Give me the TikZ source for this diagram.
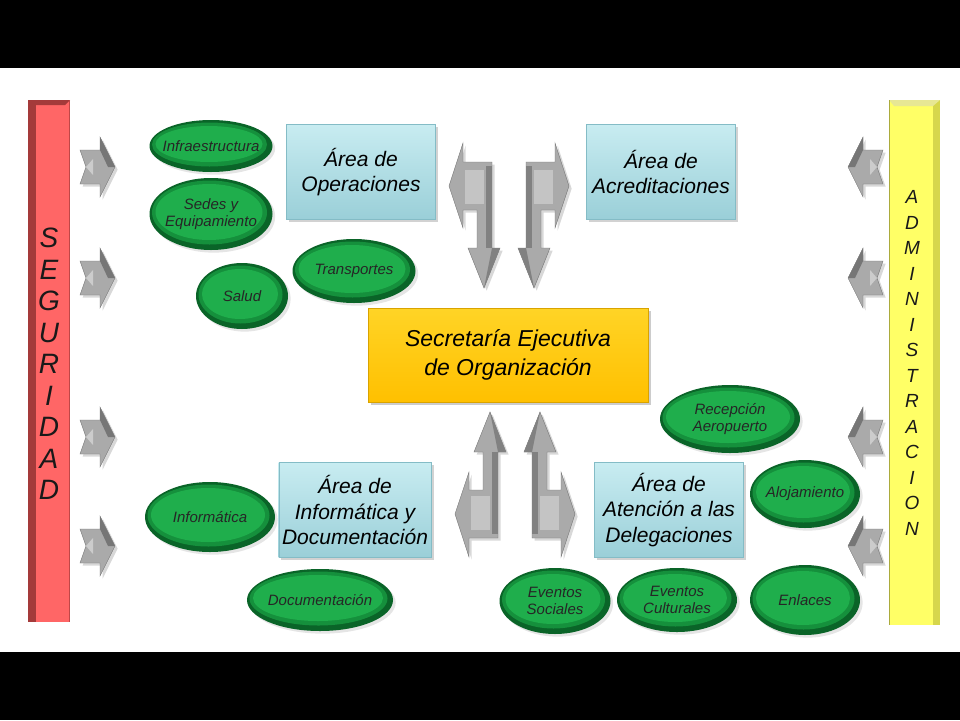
\documentclass[tikz,border=0pt]{standalone}
\usepackage{fontspec}
\setmainfont{Liberation Sans}
\usepackage{xcolor}
\usetikzlibrary{shadows,shapes.geometric}

\definecolor{boxtop}{HTML}{C8ECF1}
\definecolor{boxbot}{HTML}{9ACFD8}
\definecolor{boxline}{HTML}{84BCC6}
\definecolor{goldtop}{HTML}{FFD426}
\definecolor{goldbot}{HTML}{FFC000}
\definecolor{elgreen}{HTML}{1FAE4C}
\definecolor{elmid}{HTML}{15903C}
\definecolor{eldark}{HTML}{0A6428}
\definecolor{segred}{HTML}{FF6666}
\definecolor{segdark}{HTML}{A43A3A}
\definecolor{admyel}{HTML}{FFFF66}
\definecolor{admedge}{HTML}{D6D64C}
\definecolor{arrgray}{HTML}{AAAAAA}
\definecolor{arrdark}{HTML}{767676}

\begin{document}
\begin{tikzpicture}[x=1pt, y=-1pt,
  area/.style={rectangle, minimum width=149pt, minimum height=95pt,
    top color=boxtop, bottom color=boxbot, draw=boxline,
    drop shadow={opacity=0.35}, align=center,
    font=\fontsize{21}{25.5}\selectfont\itshape},
  secre/.style={rectangle, minimum width=280pt, minimum height=94pt,
    top color=goldtop, bottom color=goldbot, draw=goldbot!85!black,
    drop shadow={opacity=0.4}, align=center,
    font=\fontsize{23}{29}\selectfont\itshape},
  el/.style 2 args={ellipse, fill=eldark, draw=none, inner sep=0pt,
    minimum width=#1, minimum height=#2, drop shadow={opacity=0.2},
    path picture={
      \fill[elmid] ([xshift=-1.5pt, yshift=1.5pt]path picture bounding box.center)
        ellipse [x radius=#1/2-4pt, y radius=#2/2-4pt];
      \fill[elgreen] ([xshift=-2pt, yshift=2pt]path picture bounding box.center)
        ellipse [x radius=#1/2-8pt, y radius=#2/2-8pt];
    }},
  eltext/.style={inner sep=0pt, align=center, text=black!85,
    font=\fontsize{15}{17}\selectfont\itshape},
  barletters/.style={align=center, inner sep=0pt, text=black!90},
  sidearrow/.pic={
    \path[fill=arrgray, draw=arrdark, drop shadow={opacity=0.3}]
      (-17,-17) -- (3,-17) -- (3,-30) -- (18,0) -- (3,30) -- (3,17)
      -- (-17,17) -- (-11,0) -- cycle;
    \fill[arrdark] (3,-30) -- (18,0) -- (11,0) -- (3,-17) -- cycle;
    \fill[arrgray!60!white] (-11,0) -- (-4,-8) -- (-4,8) -- cycle;
  },
  bentarrow/.pic={
    \path[fill=arrgray, draw=arrdark, drop shadow={opacity=0.3}]
      (-8,126) -- (8,86) -- (0,86) -- (0,0) -- (-29,0) -- (-29,-19)
      -- (-43,24) -- (-29,66) -- (-29,48) -- (-15,48) -- (-15,86)
      -- (-24,86) -- cycle;
    \fill[arrdark!80!arrgray] (-6,4) rectangle (0,86);
    \fill[arrdark!80!arrgray] (-8,126) -- (8,86) -- (0,86) -- cycle;
    \fill[arrgray!70!white] (-27,8) rectangle (-8,42);
  }]

  \useasboundingbox (0,0) rectangle (960,720);
  \fill[white] (0,0) rectangle (960,720);

  % Black bands
  \fill[black] (0,0) rectangle (960,68);
  \fill[black] (0,652) rectangle (960,720);

  % Seguridad bar
  \fill[segred] (28,100) rectangle (70,622);
  \fill[segdark] (28,100) rectangle (36,622);
  \fill[segdark] (28,100) -- (70,100) -- (65,105) -- (36,105) -- cycle;
  \draw[segdark!70!segred] (69.5,100) -- (69.5,622);
  \node[barletters, font=\fontsize{28}{31.5}\selectfont\itshape] (segu)
    at (49,364) {S\\E\\G\\U\\R\\I\\D\\A\\D};

  % Administracion bar
  \fill[admyel] (889,100) rectangle (940,625);
  \fill[admedge] (933,100) rectangle (940,625);
  \fill[admedge!60!white] (889,100) -- (940,100) -- (933,106) -- (894,106) -- cycle;
  \draw[admedge!80!black] (889.5,100) -- (889.5,625);
  \node[barletters, font=\fontsize{19}{25.5}\selectfont\itshape] (admi)
    at (912,363) {A\\D\\M\\I\\N\\I\\S\\T\\R\\A\\C\\I\\O\\N};

  % Side arrows
  \foreach \yy in {167,278,437,546} {
    \pic at (97,\yy) {sidearrow};
    \pic[xscale=-1] at (866,\yy) {sidearrow};
  }

  % Central bent arrows
  \pic at (492,162) {bentarrow};
  \pic[xscale=-1] at (526,162) {bentarrow};
  \pic[yscale=-1] at (498,538) {bentarrow};
  \pic[xscale=-1, yscale=-1] at (532,538) {bentarrow};

  % Areas
  \node[area] (oper) at (361,172) {Área de\\Operaciones};
  \node[area] (acre) at (661,172) {Área de\\Acreditaciones};
  \node[secre] (secr) at (508,355) {Secretaría Ejecutiva\\de Organización};
  \node[area] (info) at (355,510) {Área de\\Informática y\\Documentación};
  \node[area] (aten) at (669,510) {Área de\\Atención a las\\Delegaciones};

  % Green ellipses
  \node[el={123pt}{52pt}, label={[eltext]center:{Infraestructura}}] (infr) at (211,146) {};
  \node[el={123pt}{72pt}, label={[eltext]center:{Sedes y\\Equipamiento}}] (sede) at (211,214) {};
  \node[el={92pt}{66pt}, label={[eltext]center:{Salud}}] (salu) at (242,296) {};
  \node[el={123pt}{64pt}, label={[eltext]center:{Transportes}}] (tran) at (354,271) {};
  \node[el={140pt}{68pt}, label={[eltext]center:{Recepción\\Aeropuerto}}] (rece) at (730,419) {};
  \node[el={110pt}{68pt}, label={[eltext]center:{Alojamiento}}] (aloj) at (805,494) {};
  \node[el={110pt}{70pt}, label={[eltext]center:{Enlaces}}] (enla) at (805,600) {};
  \node[el={120pt}{64pt}, label={[eltext]center:{Eventos\\Culturales}}] (evcu) at (677,600) {};
  \node[el={111pt}{66pt}, label={[eltext]center:{Eventos\\Sociales}}] (evso) at (555,601) {};
  \node[el={146pt}{62pt}, label={[eltext]center:{Documentación}}] (docu) at (320,600) {};
  \node[el={130pt}{70pt}, label={[eltext]center:{Informática}}] (infm) at (210,517) {};
\end{tikzpicture}
\end{document}
